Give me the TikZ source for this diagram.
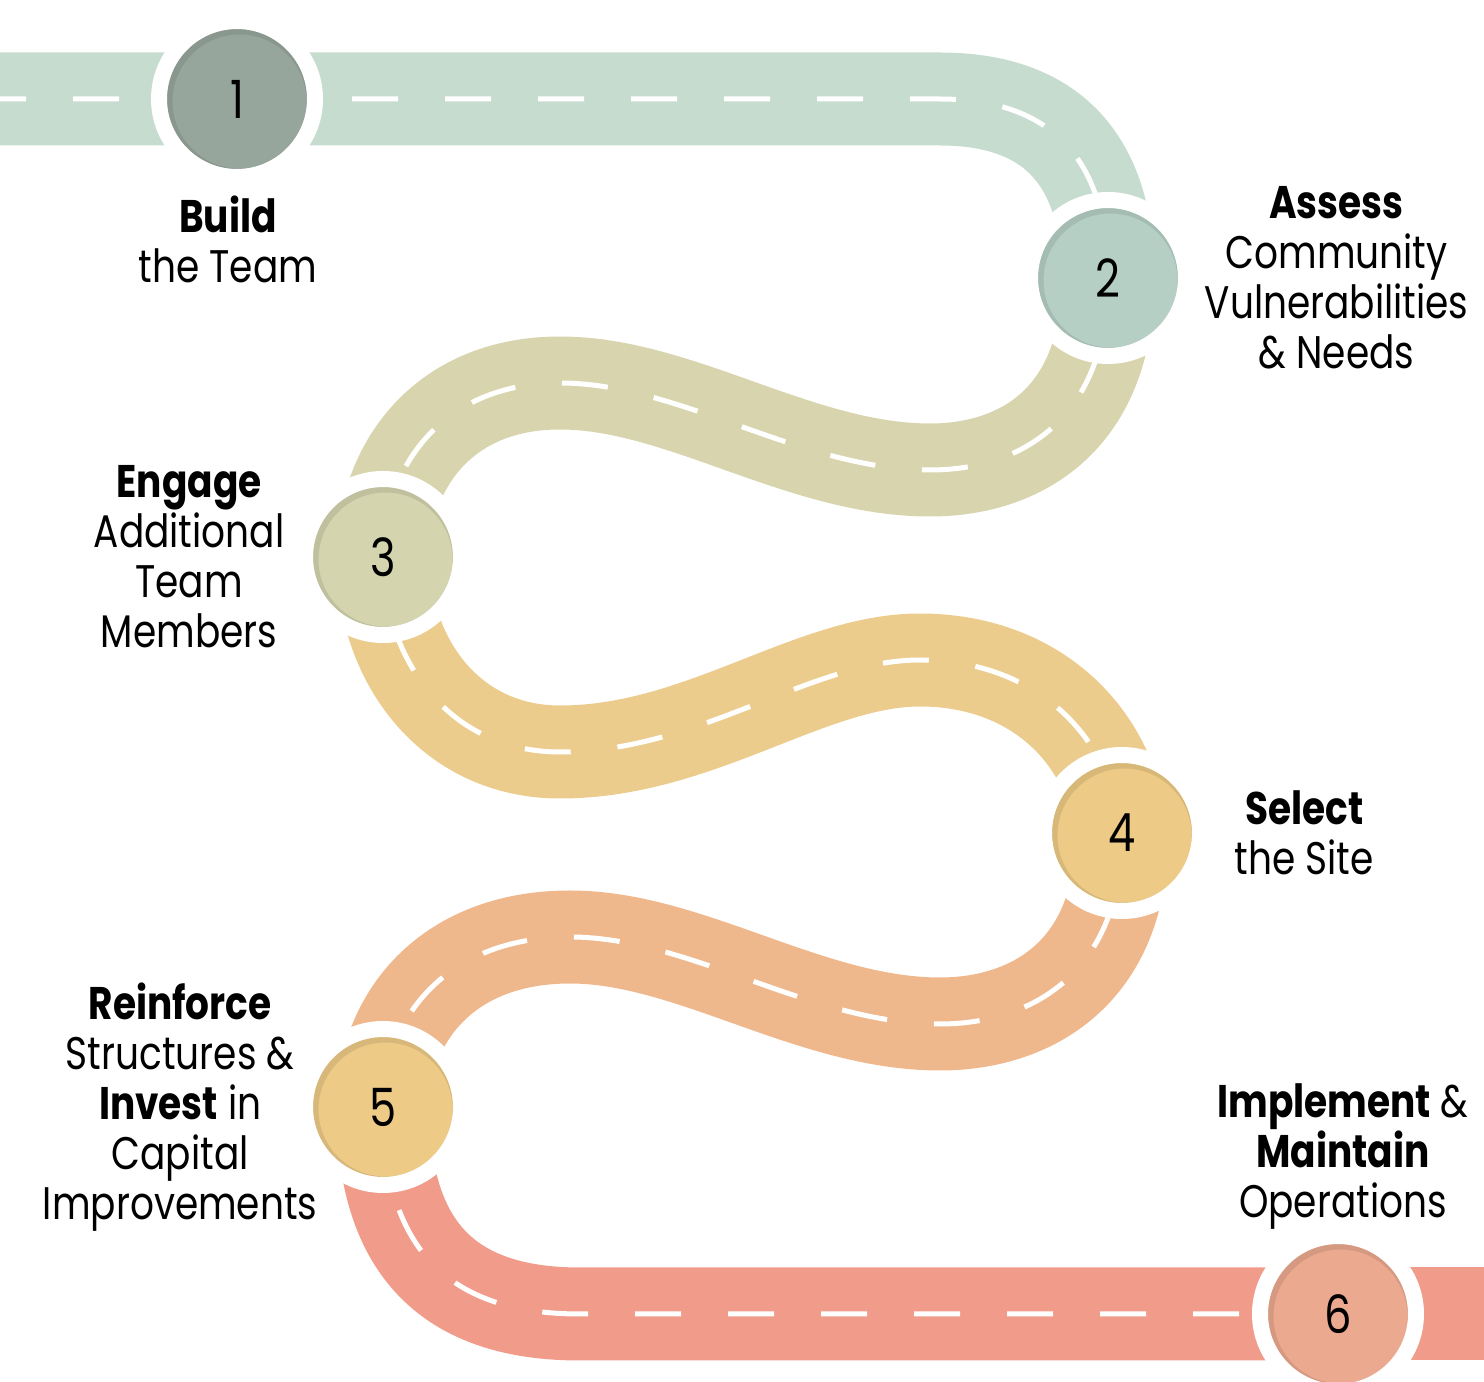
\documentclass[tikz,border=0pt]{standalone}
\usepackage{fontspec}
\setmainfont{Poppins}[FakeStretch=0.82]
\usepackage{tikz}
\usetikzlibrary{positioning,backgrounds}

\definecolor{roadA}{HTML}{C6DCCF}
\definecolor{roadB}{HTML}{D8D5AE}
\definecolor{roadC}{HTML}{ECCC8D}
\definecolor{roadD}{HTML}{EFB78C}
\definecolor{roadE}{HTML}{F19B8A}
\definecolor{stopA}{HTML}{97A69D}
\definecolor{stopB}{HTML}{B6CFC5}
\definecolor{stopC}{HTML}{D4D4AF}
\definecolor{stopD}{HTML}{EDCB86}
\definecolor{stopE}{HTML}{EDCB87}
\definecolor{stopF}{HTML}{EBA98F}

\begin{document}
\begin{tikzpicture}[
    x=0.1mm, y=-0.1mm,
    milestone/.style = {circle, minimum size=1.56cm, inner sep=0pt, draw=white, line width=0.16cm, font=\fontsize{15}{15}\selectfont,
        path picture={\fill[black, opacity=0.09, even odd rule] (path picture bounding box.center) circle (0.70cm)
            ([xshift=0.025cm, yshift=-0.025cm]path picture bounding box.center) circle (0.67cm);}},
    steptext/.style = {align=center, inner sep=0pt, font=\fontsize{13}{14.2}\selectfont},
    pavement/.style = {line width=0.93cm},
    road/.style = {pavement, postaction={draw=white, line width=0.05cm, dash pattern=on 0.46cm off 0.47cm, dash phase=#1}},
    road/.default = 0.2cm
]
    \useasboundingbox (0,0) rectangle (1484,1382);

    % Milestones along the road
    \node[milestone, fill=stopA] (s1) at (237,99) {1};
    \node[milestone, fill=stopB] (s2) at (1108,278) {2};
    \node[milestone, fill=stopC] (s3) at (383,557) {3};
    \node[milestone, fill=stopD] (s4) at (1122,833) {4};
    \node[milestone, fill=stopE] (s5) at (383,1107) {5};
    \node[milestone, fill=stopF] (s6) at (1338,1314) {6};

    % Step descriptions
    \node[steptext, below=0.1cm of s1, xshift=-0.09cm] (t1) {\textbf{Build}\\the Team};
    \node[steptext, right=0.1cm of s2] (t2) {\textbf{Assess}\\Community\\Vulnerabilities\\\& Needs};
    \node[steptext, left=0.12cm of s3] (t3) {\textbf{Engage}\\Additional\\Team\\Members};
    \node[steptext, right=0.26cm of s4] (t4) {\textbf{Select}\\the Site};
    \node[steptext, left=-0.21cm of s5] (t5) {\textbf{Reinforce}\\Structures \&\\\textbf{Invest} in\\Capital\\Improvements};
    \node[steptext, above=-0.02cm of s6, xshift=0.05cm] (t6) {\textbf{Implement} \&\\\textbf{Maintain}\\Operations};

    % The winding road
    \begin{scope}[on background layer]
        \coordinate (west) at (0,99);
        \coordinate (east) at (1484,1314);
        \draw[road, draw=roadA] (west) -- (s1.center) -- (940,99)
            .. controls (1065,99) and (1108,175) .. (s2.center);
        \draw[road, draw=roadB] (s2.center) .. controls (1108,420) and (1020,470) .. (930,470)
            .. controls (800,470) and (680,383) .. (560,383)
            .. controls (440,383) and (383,470) .. (s3.center);
        \draw[road, draw=roadC] (s3.center) .. controls (383,660) and (450,752) .. (560,752)
            .. controls (700,752) and (810,660) .. (920,660)
            .. controls (1030,660) and (1110,730) .. (s4.center);
        \draw[road, draw=roadD] (s4.center) .. controls (1122,974) and (1030,1024) .. (940,1024)
            .. controls (810,1024) and (690,937) .. (570,937)
            .. controls (445,937) and (383,1020) .. (s5.center);
        \draw[road=0.81cm, draw=roadE] (s5.center) .. controls (383,1250) and (450,1314) .. (580,1314)
            -- (s6.center);
        \draw[pavement, draw=roadE] (s6.center) -- (east);
    \end{scope}
\end{tikzpicture}
\end{document}
